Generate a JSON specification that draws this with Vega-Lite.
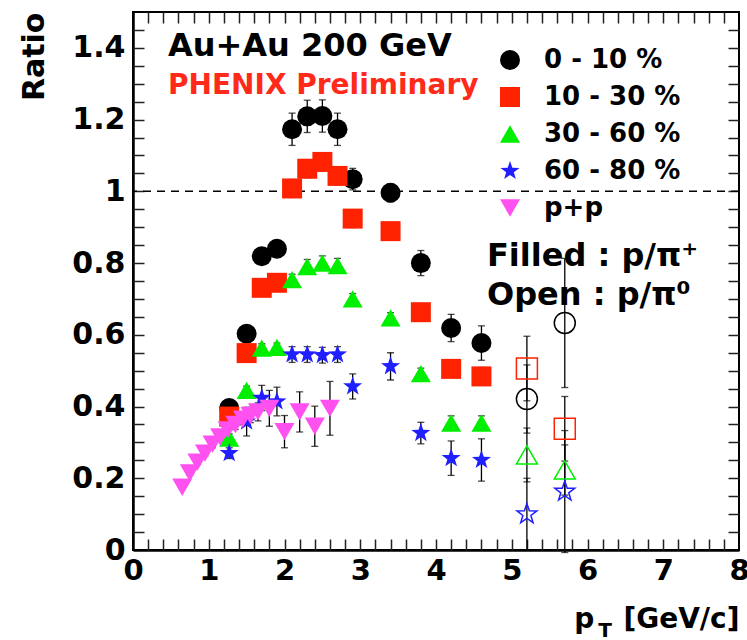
{
  "$schema": "https://vega.github.io/schema/vega-lite/v6.json",
  "width": 606,
  "height": 538,
  "autosize": {"type": "none"},
  "padding": {"left": 133, "top": 12, "right": 8, "bottom": 90},
  "background": "white",
  "config": {
    "view": {"stroke": "black", "strokeWidth": 2},
    "axis": {"grid": false},
    "text": {"font": "DejaVu Sans", "fontWeight": "bold"}
  },
  "datasets": {
    "pts": [
      {"pt": 1.27, "r": 0.396, "e": 0.015, "s": "0 - 10 %", "t": "f"},
      {"pt": 1.5, "r": 0.603, "e": 0.015, "s": "0 - 10 %", "t": "f"},
      {"pt": 1.7, "r": 0.819, "e": 0.02, "s": "0 - 10 %", "t": "f"},
      {"pt": 1.9, "r": 0.84, "e": 0.02, "s": "0 - 10 %", "t": "f"},
      {"pt": 2.1, "r": 1.173, "e": 0.045, "s": "0 - 10 %", "t": "f"},
      {"pt": 2.3, "r": 1.209, "e": 0.045, "s": "0 - 10 %", "t": "f"},
      {"pt": 2.5, "r": 1.21, "e": 0.045, "s": "0 - 10 %", "t": "f"},
      {"pt": 2.7, "r": 1.173, "e": 0.045, "s": "0 - 10 %", "t": "f"},
      {"pt": 2.9, "r": 1.034, "e": 0.03, "s": "0 - 10 %", "t": "f"},
      {"pt": 3.4, "r": 0.996, "e": 0.025, "s": "0 - 10 %", "t": "f"},
      {"pt": 3.8, "r": 0.8, "e": 0.035, "s": "0 - 10 %", "t": "f"},
      {"pt": 4.2, "r": 0.619, "e": 0.038, "s": "0 - 10 %", "t": "f"},
      {"pt": 4.6, "r": 0.577, "e": 0.048, "s": "0 - 10 %", "t": "f"},
      {"pt": 1.27, "r": 0.372, "e": 0.012, "s": "10 - 30 %", "t": "f"},
      {"pt": 1.5, "r": 0.549, "e": 0.012, "s": "10 - 30 %", "t": "f"},
      {"pt": 1.7, "r": 0.731, "e": 0.015, "s": "10 - 30 %", "t": "f"},
      {"pt": 1.9, "r": 0.745, "e": 0.015, "s": "10 - 30 %", "t": "f"},
      {"pt": 2.1, "r": 1.008, "e": 0.025, "s": "10 - 30 %", "t": "f"},
      {"pt": 2.3, "r": 1.063, "e": 0.025, "s": "10 - 30 %", "t": "f"},
      {"pt": 2.5, "r": 1.082, "e": 0.025, "s": "10 - 30 %", "t": "f"},
      {"pt": 2.7, "r": 1.043, "e": 0.025, "s": "10 - 30 %", "t": "f"},
      {"pt": 2.9, "r": 0.924, "e": 0.025, "s": "10 - 30 %", "t": "f"},
      {"pt": 3.4, "r": 0.889, "e": 0.02, "s": "10 - 30 %", "t": "f"},
      {"pt": 3.8, "r": 0.663, "e": 0.02, "s": "10 - 30 %", "t": "f"},
      {"pt": 4.2, "r": 0.505, "e": 0.02, "s": "10 - 30 %", "t": "f"},
      {"pt": 4.6, "r": 0.484, "e": 0.025, "s": "10 - 30 %", "t": "f"},
      {"pt": 1.27, "r": 0.312, "e": 0.012, "s": "30 - 60 %", "t": "f"},
      {"pt": 1.5, "r": 0.445, "e": 0.012, "s": "30 - 60 %", "t": "f"},
      {"pt": 1.7, "r": 0.563, "e": 0.012, "s": "30 - 60 %", "t": "f"},
      {"pt": 1.9, "r": 0.565, "e": 0.012, "s": "30 - 60 %", "t": "f"},
      {"pt": 2.1, "r": 0.754, "e": 0.015, "s": "30 - 60 %", "t": "f"},
      {"pt": 2.3, "r": 0.79, "e": 0.02, "s": "30 - 60 %", "t": "f"},
      {"pt": 2.5, "r": 0.8, "e": 0.02, "s": "30 - 60 %", "t": "f"},
      {"pt": 2.7, "r": 0.793, "e": 0.02, "s": "30 - 60 %", "t": "f"},
      {"pt": 2.9, "r": 0.7, "e": 0.015, "s": "30 - 60 %", "t": "f"},
      {"pt": 3.4, "r": 0.647, "e": 0.015, "s": "30 - 60 %", "t": "f"},
      {"pt": 3.8, "r": 0.492, "e": 0.015, "s": "30 - 60 %", "t": "f"},
      {"pt": 4.2, "r": 0.354, "e": 0.02, "s": "30 - 60 %", "t": "f"},
      {"pt": 4.6, "r": 0.354, "e": 0.02, "s": "30 - 60 %", "t": "f"},
      {"pt": 1.27, "r": 0.27, "e": 0.015, "s": "60 - 80 %", "t": "f"},
      {"pt": 1.5, "r": 0.358, "e": 0.04, "s": "60 - 80 %", "t": "f"},
      {"pt": 1.7, "r": 0.424, "e": 0.035, "s": "60 - 80 %", "t": "f"},
      {"pt": 1.9, "r": 0.414, "e": 0.04, "s": "60 - 80 %", "t": "f"},
      {"pt": 2.1, "r": 0.545, "e": 0.022, "s": "60 - 80 %", "t": "f"},
      {"pt": 2.3, "r": 0.545, "e": 0.022, "s": "60 - 80 %", "t": "f"},
      {"pt": 2.5, "r": 0.543, "e": 0.022, "s": "60 - 80 %", "t": "f"},
      {"pt": 2.7, "r": 0.545, "e": 0.022, "s": "60 - 80 %", "t": "f"},
      {"pt": 2.9, "r": 0.456, "e": 0.035, "s": "60 - 80 %", "t": "f"},
      {"pt": 3.4, "r": 0.512, "e": 0.038, "s": "60 - 80 %", "t": "f"},
      {"pt": 3.8, "r": 0.326, "e": 0.03, "s": "60 - 80 %", "t": "f"},
      {"pt": 4.2, "r": 0.256, "e": 0.048, "s": "60 - 80 %", "t": "f"},
      {"pt": 4.6, "r": 0.251, "e": 0.059, "s": "60 - 80 %", "t": "f"},
      {"pt": 0.65, "r": 0.175, "e": 0.005, "s": "p+p", "t": "f"},
      {"pt": 0.75, "r": 0.215, "e": 0.006, "s": "p+p", "t": "f"},
      {"pt": 0.85, "r": 0.245, "e": 0.007, "s": "p+p", "t": "f"},
      {"pt": 0.95, "r": 0.27, "e": 0.008, "s": "p+p", "t": "f"},
      {"pt": 1.05, "r": 0.295, "e": 0.01, "s": "p+p", "t": "f"},
      {"pt": 1.15, "r": 0.315, "e": 0.01, "s": "p+p", "t": "f"},
      {"pt": 1.25, "r": 0.335, "e": 0.012, "s": "p+p", "t": "f"},
      {"pt": 1.35, "r": 0.35, "e": 0.014, "s": "p+p", "t": "f"},
      {"pt": 1.45, "r": 0.365, "e": 0.016, "s": "p+p", "t": "f"},
      {"pt": 1.55, "r": 0.375, "e": 0.02, "s": "p+p", "t": "f"},
      {"pt": 1.65, "r": 0.385, "e": 0.025, "s": "p+p", "t": "f"},
      {"pt": 1.8, "r": 0.395, "e": 0.05, "s": "p+p", "t": "f"},
      {"pt": 2.0, "r": 0.33, "e": 0.045, "s": "p+p", "t": "f"},
      {"pt": 2.2, "r": 0.385, "e": 0.056, "s": "p+p", "t": "f"},
      {"pt": 2.4, "r": 0.345, "e": 0.056, "s": "p+p", "t": "f"},
      {"pt": 2.6, "r": 0.395, "e": 0.075, "s": "p+p", "t": "f"},
      {"pt": 5.2, "r": 0.421, "e": 0.095, "s": "0 - 10 %", "t": "o"},
      {"pt": 5.7, "r": 0.633, "e": 0.18, "s": "0 - 10 %", "t": "o"},
      {"pt": 5.2, "r": 0.506, "e": 0.09, "s": "10 - 30 %", "t": "o"},
      {"pt": 5.7, "r": 0.338, "e": 0.09, "s": "10 - 30 %", "t": "o"},
      {"pt": 5.2, "r": 0.265, "e": 0.075, "s": "30 - 60 %", "t": "o"},
      {"pt": 5.7, "r": 0.223, "e": 0.07, "s": "30 - 60 %", "t": "o"},
      {"pt": 5.2, "r": 0.1, "e": 0.1, "s": "60 - 80 %", "t": "o"},
      {"pt": 5.7, "r": 0.163, "e": 0.17, "s": "60 - 80 %", "t": "o"}
    ]
  },
  "data": {"name": "pts"},
  "resolve": {"axis": {"x": "independent", "y": "independent"}},
  "layer": [
    {
      "data": {"values": [{"ref": 1}]},
      "mark": {"type": "rule", "strokeDash": [8, 6], "strokeWidth": 1.5, "color": "black"},
      "encoding": {"y": {"field": "ref", "type": "quantitative", "axis": null}}
    },
    {
      "mark": {"type": "errorbar", "ticks": {"color": "black", "size": 7, "thickness": 1.3}, "rule": {"color": "black", "strokeWidth": 1.3}},
      "encoding": {
        "x": {"field": "pt", "type": "quantitative", "axis": null},
        "y": {"field": "r", "type": "quantitative", "axis": null},
        "yError": {"field": "e"}
      }
    },
    {
      "transform": [{"filter": "datum.t == 'f'"}],
      "mark": {"type": "point", "filled": true, "size": 400, "opacity": 1, "strokeWidth": 0},
      "encoding": {
        "x": {
          "field": "pt", "type": "quantitative",
          "scale": {"domain": [0, 8], "nice": false, "zero": false},
          "axis": {
            "orient": "bottom", "values": [0, 1, 2, 3, 4, 5, 6, 7, 8], "format": "~g",
            "ticks": false, "domain": true, "domainWidth": 2.5, "domainColor": "black",
            "labelFont": "DejaVu Sans", "labelFontWeight": "bold", "labelFontSize": 29, "labelColor": "black",
            "labelPadding": 6, "labelFlush": false, "labelOverlap": false,
            "title": "p\u00a0\u00a0\u00a0[GeV/c]", "titleFont": "DejaVu Sans", "titleFontWeight": "bold", "titleFontSize": 28, "titleColor": "black",
            "titleAnchor": "end", "titleAlign": "right", "titleBaseline": "alphabetic", "titleX": 606, "titleY": 77
          }
        },
        "y": {
          "field": "r", "type": "quantitative",
          "scale": {"domain": [0, 1.5], "nice": false, "zero": false},
          "axis": {
            "orient": "left", "values": [0, 0.2, 0.4, 0.6, 0.8, 1, 1.2, 1.4], "format": "~g",
            "ticks": false, "domain": true, "domainWidth": 2.5, "domainColor": "black",
            "labelFont": "DejaVu Sans", "labelFontWeight": "bold", "labelFontSize": 30, "labelColor": "black",
            "labelPadding": 8, "labelFlush": false, "labelOverlap": false,
            "title": "Ratio", "titleFont": "DejaVu Sans", "titleFontWeight": "bold", "titleFontSize": 30, "titleColor": "black",
            "titleAngle": -90, "titleAnchor": "end", "titleAlign": "right", "titleBaseline": "alphabetic", "titleX": -90, "titleY": 0
          }
        },
        "color": {
          "field": "s", "type": "nominal",
          "scale": {"domain": ["0 - 10 %", "10 - 30 %", "30 - 60 %", "60 - 80 %", "p+p"], "range": ["#000000", "#ff2200", "#00ee00", "#1f1fff", "#ff50f0"]},
          "legend": {"title": null, "orient": "none", "legendX": 364, "legendY": 35, "padding": 0,
            "labelFont": "DejaVu Sans", "labelFontWeight": "bold", "labelFontSize": 26, "labelColor": "black",
            "symbolSize": 400, "rowPadding": 11, "labelOffset": 21, "symbolStrokeWidth": 0,
            "labelExpr": "datum.label == '0 - 10 %' ? '\u00a00 - 10 %' : datum.label"}
        },
        "shape": {
          "field": "s", "type": "nominal",
          "scale": {"domain": ["0 - 10 %", "10 - 30 %", "30 - 60 %", "60 - 80 %", "p+p"], "range": ["circle", "square", "triangle-up", "M0,-1L0.235,-0.324L0.951,-0.309L0.380,0.124L0.588,0.809L0,0.4L-0.588,0.809L-0.380,0.124L-0.951,-0.309L-0.235,-0.324Z", "triangle-down"]},
          "legend": {"title": null, "orient": "none", "legendX": 364, "legendY": 35, "padding": 0,
            "labelFont": "DejaVu Sans", "labelFontWeight": "bold", "labelFontSize": 26, "labelColor": "black",
            "symbolSize": 400, "rowPadding": 11, "labelOffset": 21, "symbolStrokeWidth": 0,
            "labelExpr": "datum.label == '0 - 10 %' ? '\u00a00 - 10 %' : datum.label"}
        }
      }
    },
    {
      "transform": [{"filter": "datum.t == 'o'"}],
      "mark": {"type": "point", "filled": false, "size": 440, "opacity": 1, "strokeWidth": 1.5},
      "encoding": {
        "x": {"field": "pt", "type": "quantitative",
          "axis": {"orient": "bottom", "values": [0.2,0.4,0.6,0.8,1,1.2,1.4,1.6,1.8,2,2.2,2.4,2.6,2.8,3,3.2,3.4,3.6,3.8,4,4.2,4.4,4.6,4.8,5,5.2,5.4,5.6,5.8,6,6.2,6.4,6.6,6.8,7,7.2,7.4,7.6,7.8], "labels": false, "domain": false, "ticks": true, "tickSize": -11, "tickWidth": 1.5, "tickColor": "#222222", "title": null}},
        "y": {"field": "r", "type": "quantitative",
          "axis": {"orient": "left", "values": [0.05,0.1,0.15,0.2,0.25,0.3,0.35,0.4,0.45,0.5,0.55,0.6,0.65,0.7,0.75,0.8,0.85,0.9,0.95,1,1.05,1.1,1.15,1.2,1.25,1.3,1.35,1.4,1.45], "labels": false, "domain": false, "ticks": true, "tickSize": -11, "tickWidth": 1.5, "tickColor": "#222222", "title": null}},
        "color": {"field": "s", "type": "nominal", "legend": null},
        "shape": {"field": "s", "type": "nominal", "legend": null}
      }
    },
    {
      "data": {"values": [{"label": "Au+Au 200 GeV"}]},
      "mark": {"type": "text", "fontSize": 32, "align": "left", "baseline": "alphabetic", "color": "black"},
      "encoding": {
        "x": {"datum": 0.462, "type": "quantitative",
          "axis": {"orient": "top", "values": [0.2,0.4,0.6,0.8,1,1.2,1.4,1.6,1.8,2,2.2,2.4,2.6,2.8,3,3.2,3.4,3.6,3.8,4,4.2,4.4,4.6,4.8,5,5.2,5.4,5.6,5.8,6,6.2,6.4,6.6,6.8,7,7.2,7.4,7.6,7.8], "labels": false, "domain": false, "ticks": true, "tickSize": -11, "tickWidth": 1.5, "tickColor": "#222222", "title": null}},
        "y": {"datum": 1.377, "type": "quantitative",
          "axis": {"orient": "right", "values": [0.05,0.1,0.15,0.2,0.25,0.3,0.35,0.4,0.45,0.5,0.55,0.6,0.65,0.7,0.75,0.8,0.85,0.9,0.95,1,1.05,1.1,1.15,1.2,1.25,1.3,1.35,1.4,1.45], "labels": false, "domain": false, "ticks": true, "tickSize": -11, "tickWidth": 1.5, "tickColor": "#222222", "title": null}},
        "text": {"field": "label"}
      }
    },
    {
      "data": {"values": [{"label": "PHENIX Preliminary"}]},
      "mark": {"type": "text", "fontSize": 28, "align": "left", "baseline": "alphabetic", "color": "#ff2a1a"},
      "encoding": {
        "x": {"datum": 0.462, "type": "quantitative", "axis": null},
        "y": {"datum": 1.271, "type": "quantitative", "axis": null},
        "text": {"field": "label"}
      }
    },
    {
      "data": {"values": [{"label": "Filled : p/π⁺"}]},
      "mark": {"type": "text", "fontSize": 32, "align": "left", "baseline": "alphabetic", "color": "black"},
      "encoding": {
        "x": {"datum": 4.673, "type": "quantitative", "axis": null},
        "y": {"datum": 0.793, "type": "quantitative", "axis": null},
        "text": {"field": "label"}
      }
    },
    {
      "data": {"values": [{"label": "Open : p/π⁰"}]},
      "mark": {"type": "text", "fontSize": 32, "align": "left", "baseline": "alphabetic", "color": "black"},
      "encoding": {
        "x": {"datum": 4.673, "type": "quantitative", "axis": null},
        "y": {"datum": 0.682, "type": "quantitative", "axis": null},
        "text": {"field": "label"}
      }
    },
    {
      "data": {"values": [{"label": "T"}]},
      "mark": {"type": "text", "fontSize": 20, "align": "center", "baseline": "alphabetic", "color": "black"},
      "encoding": {
        "x": {"datum": 6.231, "type": "quantitative", "axis": null},
        "y": {"datum": -0.243, "type": "quantitative", "axis": null},
        "text": {"field": "label"}
      }
    }
  ]
}
